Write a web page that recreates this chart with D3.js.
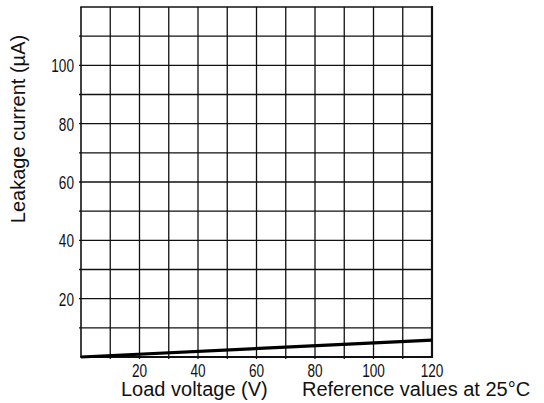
<!DOCTYPE html>
<html>
<head>
<meta charset="utf-8">
<script src="https://cdn.jsdelivr.net/npm/d3@7"></script>
<style>
  html, body { margin: 0; padding: 0; background: #fff; }
  svg { display: block; font-family: "Liberation Sans", Arial, Helvetica, sans-serif; }
</style>
</head>
<body>
<svg id="chart" width="544" height="403"></svg>
<script>
// Leakage current vs. load voltage (reference values at 25 °C)
const voltage = [0, 120];            // V
const leakage = [0, 5.8];            // µA
const xTicks = [20, 40, 60, 80, 100, 120];
const yTicks = [20, 40, 60, 80, 100];
const gridStep = 10;
const xMax = 120, yMax = 120;

const svg = d3.select("#chart");
const plotLeft = 81, plotRight = 432, plotTop = 7, plotBottom = 357;

const x = d3.scaleLinear().domain([0, xMax]).range([plotLeft, plotRight]);
const y = d3.scaleLinear().domain([0, yMax]).range([plotBottom, plotTop]);

const gridVals = d3.range(0, xMax + 1, gridStep);
const gridValsY = d3.range(0, yMax + 1, gridStep);

// grid
const grid = svg.append("g").attr("stroke", "#111").attr("stroke-width", 1.3);
grid.selectAll("line.v").data(gridVals.slice(1, -1)).join("line")
  .attr("class", "v")
  .attr("x1", d => x(d)).attr("x2", d => x(d))
  .attr("y1", y(yMax)).attr("y2", y(0) + 2);
grid.selectAll("line.h").data(gridValsY.slice(1, -1)).join("line")
  .attr("class", "h")
  .attr("x1", x(0) - 2).attr("x2", x(xMax))
  .attr("y1", d => y(d)).attr("y2", d => y(d));

// frame
svg.append("line").attr("x1", x(0)).attr("x2", x(0)).attr("y1", y(yMax)).attr("y2", y(0))
  .attr("stroke", "#111").attr("stroke-width", 1.6);
svg.append("line").attr("x1", x(xMax)).attr("x2", x(xMax)).attr("y1", y(yMax) - 0.8).attr("y2", y(0) + 1)
  .attr("stroke", "#111").attr("stroke-width", 2.2);
svg.append("line").attr("x1", x(0) - 0.8).attr("x2", x(xMax) + 1).attr("y1", y(yMax)).attr("y2", y(yMax))
  .attr("stroke", "#111").attr("stroke-width", 1.6);
svg.append("line").attr("x1", x(0) - 0.8).attr("x2", x(xMax) + 1).attr("y1", y(0)).attr("y2", y(0))
  .attr("stroke", "#111").attr("stroke-width", 2.2);

// data line
const pts = voltage.map((v, i) => [v, leakage[i]]);
svg.append("path")
  .datum(pts)
  .attr("fill", "none")
  .attr("stroke", "#000")
  .attr("stroke-width", 3.2)
  .attr("d", d3.line().x(d => x(d[0])).y(d => y(d[1])));

// tick labels (narrow face)
const tickFont = 17, squeeze = 0.8, stretch = 1.1;
svg.append("g").selectAll("text").data(xTicks).join("text")
  .attr("transform", d => `translate(${x(d)},377) scale(${squeeze},${stretch})`)
  .attr("text-anchor", "middle")
  .attr("font-size", tickFont)
  .attr("fill", "#111")
  .text(d => d);
svg.append("g").selectAll("text").data(yTicks).join("text")
  .attr("transform", d => `translate(74,${y(d) + 7}) scale(${squeeze},${stretch})`)
  .attr("text-anchor", "end")
  .attr("font-size", tickFont)
  .attr("fill", "#111")
  .text(d => d);

// titles
svg.append("text").attr("x", 121).attr("y", 396).attr("font-size", 20).attr("fill", "#111")
  .text("Load voltage (V)");
svg.append("text").attr("x", 302).attr("y", 396).attr("font-size", 20).attr("fill", "#111")
  .text("Reference values at 25°C");
svg.append("text")
  .attr("transform", "translate(25,129) rotate(-90)")
  .attr("text-anchor", "middle")
  .attr("font-size", 20).attr("fill", "#111")
  .text("Leakage current (µA)");
</script>
</body>
</html>
